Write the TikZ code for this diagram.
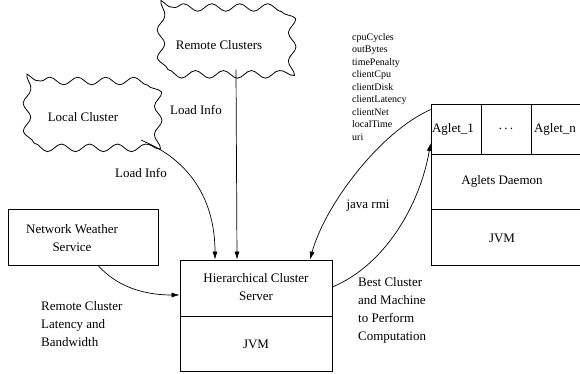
\documentclass[tikz,border=0pt]{standalone}
\usepackage{fontspec}
\setmainfont{Liberation Serif}
\usetikzlibrary{arrows.meta,decorations.pathmorphing,calc}
\begin{document}
\begin{tikzpicture}[x=1pt,y=-1pt,
  every node/.style={font=\fontsize{13}{18}\selectfont, inner sep=0pt},
  box/.style={draw, line width=0.8pt, rectangle},
  cloudline/.style={draw, line width=0.8pt, line join=round,
     decorate, decoration={snake, amplitude=3.8pt, segment length=28pt}},
  conn/.style={line width=0.7pt},
  arr/.style={conn, -{Latex[length=8pt,width=5pt]}},
  lbl/.style={align=left, anchor=west},
  small/.style={font=\fontsize{10}{12.5}\selectfont, align=left, anchor=west}]
\useasboundingbox (0,0) rectangle (580,374);
% clouds
\node[minimum width=136pt, minimum height=74pt] (rc) at (217,42.5) {};
\path[cloudline] (175,7.5) -- (259,7.5) .. controls (283,7.5) .. (283,31.5) -- (283,53.5)
   .. controls (283,77.5) .. (259,77.5) -- (175,77.5) .. controls (151,77.5) .. (151,53.5)
   -- (151,31.5) .. controls (151,7.5) .. (175,7.5) -- cycle;
\node at (219,45) (rct) {Remote Clusters};
\node[minimum width=136pt, minimum height=74pt] (lc) at (83,116) {};
\path[cloudline] (41,81) -- (125,81) .. controls (149,81) .. (149,105) -- (149,127)
   .. controls (149,151) .. (125,151) -- (41,151) .. controls (17,151) .. (17,127)
   -- (17,105) .. controls (17,81) .. (41,81) -- cycle;
\node at (83,117) (lct) {Local Cluster};
% network weather service
\node[box, minimum width=150pt, minimum height=56pt] (nws) at (83,237) {};
\node[align=center] at (72,238) (nwst) {Network Weather\\Service};
% hierarchical cluster server
\node[box, minimum width=152pt, minimum height=111pt] (hcs) at (256,315.5) {};
\coordinate (hcsdivl) at (180,316);
\coordinate (hcsdivr) at (332,316);
\draw[line width=0.8pt] (hcsdivl) -- (hcsdivr);
\node[align=center] at (256,287) (hcst) {Hierarchical Cluster\\Server};
\node at (256,344) (hcsjvm) {JVM};
% aglets stack
\node[box, minimum width=50pt, minimum height=50pt] (a1) at (456,129) {};
\node[box, minimum width=50pt, minimum height=50pt] (ad) at (506,129) {};
\node[box, minimum width=50pt, minimum height=50pt] (an) at (556,129) {};
\node[box, minimum width=150pt, minimum height=55pt] (dm) at (506,181.5) {};
\node[box, minimum width=150pt, minimum height=56pt] (aj) at (506,237) {};
\node at (453,129) (a1t) {Aglet\_1};
\node at (506,129) (adt) {.\,.\,.};
\node at (555,129) (ant) {Aglet\_n};
\node at (502,181) (dmt) {Aglets Daemon};
\node at (502,238) (ajt) {JVM};
% labels
\node at (196,110) (l1) {Load Info};
\node at (141,173) (l2) {Load Info};
\node[lbl] at (41,324) (l3) {Remote Cluster\\Latency and\\Bandwidth};
\node[lbl] at (358,310.5) (l4) {Best Cluster\\and Machine\\to Perform\\Computation};
\node at (368,206) (l5) {java rmi};
\node[small] at (352,87) (l6) {cpuCycles\\outBytes\\timePenalty\\clientCpu\\clientDisk\\clientLatency\\clientNet\\localTime\\uri};
% connectors
\draw[arr] ([xshift=-10pt,yshift=13pt]lc.south east) .. controls (190,160) and (215,200) .. ([xshift=-41pt]hcs.north);
\draw[arr] ([xshift=19pt,yshift=10pt]rc.south) -- ([xshift=-19pt]hcs.north);
\draw[arr] ([xshift=15pt]nws.south) .. controls (120,290) and (150,295) .. ([yshift=20.5pt]hcs.west);
\draw[arr] ([yshift=-6pt]a1.north west) .. controls (380,132) and (325,205) .. ([xshift=54pt]hcs.north);
\draw[arr] ([yshift=28.5pt]hcs.east) .. controls (385,265) and (420,205) .. ([yshift=-14pt]a1.west);
\end{tikzpicture}
\end{document}
